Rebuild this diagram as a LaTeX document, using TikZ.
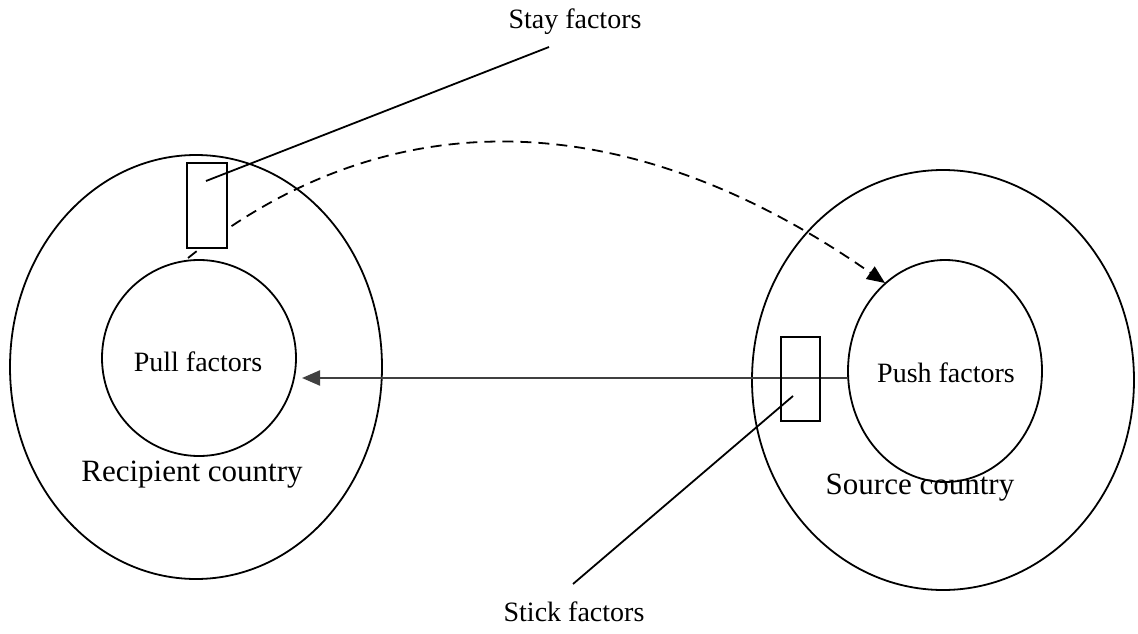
\documentclass[tikz,border=0pt]{standalone}
\usepackage{fontspec}
\setmainfont{Liberation Serif}
\usetikzlibrary{shapes.geometric,arrows.meta}
\tikzset{
  land/.style={draw,ellipse,line width=1.8pt,inner sep=0pt},
  factorbox/.style={draw,rectangle,line width=1.6pt,inner sep=0pt},
  lbl/.style={font=\fontsize{28}{30}\selectfont},
  country/.style={font=\fontsize{31}{33}\selectfont},
  tip/.style={-{Triangle[length=18pt,width=15pt]}}
}
\begin{document}
\begin{tikzpicture}[x=1pt,y=-1pt]
\useasboundingbox (0,0) rectangle (1138,634);
% countries
\node[land,minimum width=372pt,minimum height=424pt] (recipient) at (196,367) {};
\node[land,minimum width=194pt,minimum height=196pt] (pull) at (199,358) {};
\node[land,minimum width=382pt,minimum height=420pt] (source) at (943,380) {};
\node[land,minimum width=194pt,minimum height=222pt] (push) at (945,371) {};
\node[lbl] (pulltxt) at (198,362) {Pull factors};
\node[lbl] (pushtxt) at (946,373) {Push factors};
\node[country] (rectxt) at (192,475) {Recipient country};
\node[country] (srctxt) at (920,488) {Source country};
% return move
\coordinate (retstart) at (188,258);
\coordinate (retend) at (885,283);
\draw[tip,line width=1.8pt,dash pattern=on 11pt off 7pt] (retstart) .. controls (394,93) and (635,108) .. (retend);
% stay
\node[factorbox,fill=white,minimum width=40pt,minimum height=85pt] (staybox) at (207,205.5) {};
\node[lbl] (staytxt) at (575,22) {Stay factors};
\coordinate (stayin) at (206,181);
\coordinate (stayout) at (549,47);
\draw[line width=1.8pt] (stayin) -- (stayout);
% migration
\coordinate (migstart) at (848,378);
\coordinate (migend) at (302,378);
\draw[tip,line width=2.2pt,black!75] (migstart) -- (migend);
% stick
\node[factorbox,minimum width=39pt,minimum height=84pt] (stickbox) at (800.5,379) {};
\node[lbl] (sticktxt) at (574,612) {Stick factors};
\coordinate (stickin) at (793,396);
\coordinate (stickout) at (573,584);
\draw[line width=1.8pt] (stickin) -- (stickout);
\end{tikzpicture}
\end{document}
